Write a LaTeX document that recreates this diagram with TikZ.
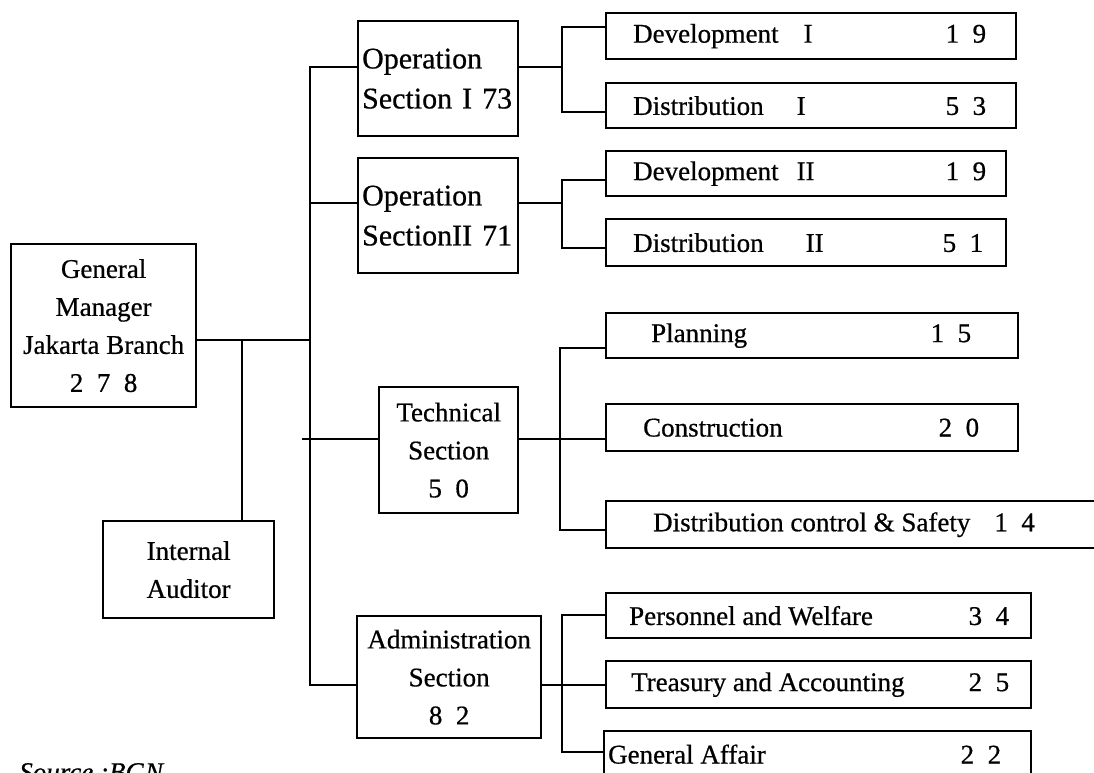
\documentclass[tikz,border=0pt]{standalone}
\usepackage{fontspec}
\setmainfont{Liberation Serif}[FakeBold=0.6,AutoFakeBold=0.6]
\newcommand\boxrow[5]{\makebox[#1][l]{\hspace*{#2}#3\hfill#4\hspace*{#5}}}
\begin{document}
\begin{tikzpicture}[x=1pt,y=-1pt,line width=2pt,
  box/.style={draw,line width=2.3pt,anchor=north west},
  txt/.style={font=\bfseries\fontsize{27}{38}\selectfont},
  optxt/.style={font=\bfseries\fontsize{30}{40}\selectfont},
  cbox/.style={box,txt,align=center,inner sep=0pt},
  rbox/.style={box,txt,inner sep=0pt}]
\useasboundingbox (0,0) rectangle (1094,772);
\clip (0,0) rectangle (1094,772);
\fill[white] (0,0) rectangle (1094,772);
% left side
\node[cbox,minimum width=185pt,minimum height=163pt] (gm) at (10,243) {General\\Manager\\Jakarta Branch\\2\enspace7\enspace8};
\node[cbox,minimum width=171pt,minimum height=97pt] (audit) at (102,520) {Internal\\Auditor};
% sections
\node[box,optxt,minimum height=115pt,text width=152pt,inner xsep=4pt,inner ysep=0pt,align=left] (opI) at (357,20) {Operation\\Section I 73};
\node[box,optxt,minimum height=115pt,text width=152pt,inner xsep=4pt,inner ysep=0pt,align=left] (opII) at (357,157) {Operation\\SectionII 71};
\node[cbox,minimum width=139pt,minimum height=126pt] (tech) at (378,386) {Technical\\Section\\5\enspace0};
\node[cbox,minimum width=184pt,minimum height=122pt] (admin) at (356,615) {Administration\\Section\\8\enspace2};
% units
\node[rbox,minimum height=46pt] (dev1) at (605,12) {\boxrow{410pt}{27pt}{Development\hspace*{25pt}I}{1\enspace9}{30pt}};
\node[rbox,minimum height=45pt] (dis1) at (605,82) {\boxrow{410pt}{27pt}{Distribution\hspace*{33pt}I}{5\enspace3}{30pt}};
\node[rbox,minimum height=45pt] (dev2) at (605,150) {\boxrow{400pt}{27pt}{Development\hspace*{18pt}II}{1\enspace9}{20pt}};
\node[rbox,minimum height=47pt] (dis2) at (605,218) {\boxrow{400pt}{27pt}{Distribution\hspace*{42pt}II}{5\enspace1}{23pt}};
\node[rbox,minimum height=45pt] (plan) at (605,312) {\boxrow{412pt}{45pt}{Planning}{1\enspace5}{47pt}};
\node[rbox,minimum height=47pt] (cons) at (605,403) {\boxrow{412pt}{37pt}{Construction}{2\enspace0}{39pt}};
\node[rbox,minimum height=47pt] (dcs) at (605,500) {\boxrow{520pt}{47pt}{Distribution control \& Safety\hspace*{24pt}1\enspace4}{}{0pt}};
\node[rbox,minimum height=45pt] (pers) at (605,592) {\boxrow{425pt}{23pt}{Personnel and Welfare}{3\enspace4}{22pt}};
\node[rbox,minimum height=47pt] (treas) at (605,660) {\boxrow{425pt}{25pt}{Treasury and Accounting}{2\enspace5}{22pt}};
\node[rbox,minimum height=46pt] (ga) at (603,730) {\boxrow{427pt}{4pt}{General Affair}{2\enspace2}{30pt}};
\node[anchor=base west,font=\itshape\fontsize{27}{32}\selectfont] (src) at (15,781) {Source :BGN};
% junctions
\coordinate (tA) at (310,67);
\coordinate (tB) at (310,203);
\coordinate (tG) at (310,340);
\coordinate (tC) at (302,439);
\coordinate (tD) at (310,685);
\coordinate (aud) at (242,340);
\coordinate (bA) at (562,67);  \coordinate (bA1) at (562,27);  \coordinate (bA2) at (562,112);
\coordinate (bB) at (562,203); \coordinate (bB1) at (562,180); \coordinate (bB2) at (562,248);
\coordinate (bC) at (560,439); \coordinate (bC1) at (560,348); \coordinate (bC3) at (560,530);
\coordinate (bD) at (562,685); \coordinate (bD1) at (562,615); \coordinate (bD3) at (562,752);
% main connectors
\draw (gm.east |- tG) -- (tG);
\draw (aud) -- (aud |- audit.north);
\draw (opI.west |- tA) -- (tA) -- (tD) -- (admin.west |- tD);
\draw (opII.west |- tB) -- (tB);
\draw (tC) -- (tC -| tech.west);
% sub connectors
\draw (opI.east |- bA) -- (bA);
\draw (dev1.west |- bA1) -- (bA1) -- (bA2) -- (dis1.west |- bA2);
\draw (opII.east |- bB) -- (bB);
\draw (dev2.west |- bB1) -- (bB1) -- (bB2) -- (dis2.west |- bB2);
\draw (tech.east |- bC) -- (bC -| cons.west);
\draw (plan.west |- bC1) -- (bC1) -- (bC3) -- (dcs.west |- bC3);
\draw (admin.east |- bD) -- (bD -| treas.west);
\draw (pers.west |- bD1) -- (bD1) -- (bD3) -- (ga.west |- bD3);
\end{tikzpicture}
\end{document}
